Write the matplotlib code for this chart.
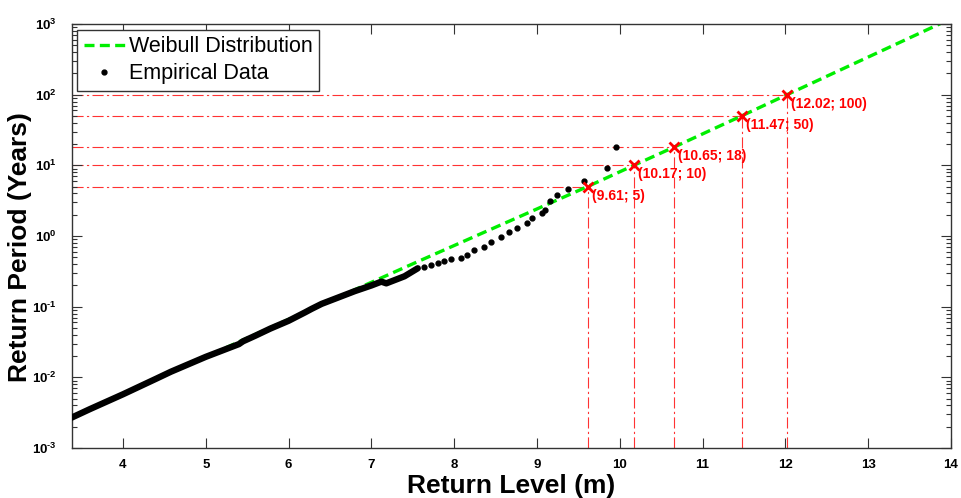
import numpy as np
import matplotlib
matplotlib.use("Agg")
import matplotlib.pyplot as plt
from matplotlib.lines import Line2D
from matplotlib.ticker import FixedLocator, FuncFormatter, NullFormatter

plt.rcParams['font.family'] = ['Liberation Sans', 'DejaVu Sans']
plt.rcParams['mathtext.fontset'] = 'custom'
plt.rcParams['mathtext.rm'] = 'Liberation Sans'
plt.rcParams['mathtext.bf'] = 'Liberation Sans:bold'

# Empirical return periods: dense part (many overlapping events)
dense_level = [3.38, 3.6, 3.8, 4.0, 4.2, 4.4, 4.58, 4.8, 5.0, 5.2, 5.4, 5.45,
               5.6, 5.78, 6.0, 6.2, 6.28, 6.4, 6.6, 6.8, 7.0, 7.12, 7.18,
               7.4, 7.56]
dense_log_period = [-2.57, -2.45, -2.345, -2.24, -2.13, -2.02, -1.92, -1.81,
                    -1.71, -1.62, -1.53, -1.49, -1.41, -1.31, -1.20, -1.08,
                    -1.03, -0.96, -0.87, -0.78, -0.70, -0.646, -0.67, -0.57,
                    -0.457]

# Empirical return periods: sparse upper tail
tail_level = [7.64, 7.72, 7.80, 7.88, 7.96, 8.08, 8.16, 8.24, 8.36, 8.44,
              8.56, 8.66, 8.76, 8.88, 8.94, 9.06, 9.10, 9.16, 9.24, 9.37,
              9.57, 9.84, 9.95]
tail_log_period = [-0.443, -0.41, -0.387, -0.36, -0.33, -0.316, -0.27, -0.20,
                   -0.15, -0.08, -0.01, 0.06, 0.11, 0.18, 0.25, 0.32, 0.37,
                   0.49, 0.58, 0.66, 0.78, 0.96, 1.264]

# Fitted Weibull return-level curve
weibull_level = [3.38, 5.0, 6.28, 7.56, 9.61, 10.17, 10.65, 11.47, 12.02, 14.0]
weibull_period = [2.7e-3, 0.0195, 0.093, 0.434, 5, 10, 18, 50, 100, 1190]

# Selected return periods with their return levels
sel_level = [9.61, 10.17, 10.65, 11.47, 12.02]
sel_period = [5, 10, 18, 50, 100]
sel_labels = ['(9.61; 5)', '(10.17; 10)', '(10.65; 18)', '(11.47; 50)',
              '(12.02; 100)']

x_ticks = [4, 5, 6, 7, 8, 9, 10, 11, 12, 13, 14]
y_decades = [-3, -2, -1, 0, 1, 2, 3]

GREEN = '#00ee00'
REF_RED = '#ff3333'

fig = plt.figure(figsize=(9.61, 4.98), dpi=100)
ax = fig.add_axes([0.0749, 0.1004, 0.9147, 0.8514])

xmin, xmax = 3.384, 14.0
ymin, ymax = 1e-3, 1e3

# Reference lines for the selected return periods
ref_kw = dict(color=REF_RED, lw=0.8, dashes=(10, 3, 2, 3), zorder=1)
for lv, tp in zip(sel_level, sel_period):
    ax.plot([xmin, lv], [tp, tp], **ref_kw)
    ax.plot([lv, lv], [ymin, tp], **ref_kw)

# Weibull curve (drawn beneath the empirical points)
ax.plot(weibull_level, weibull_period, color=GREEN, lw=2.4,
        dashes=(3.0, 1.6), zorder=2)

# Empirical data
dense_T = 10 ** np.array(dense_log_period)
tail_T = 10 ** np.array(tail_log_period)
ax.plot(dense_level, dense_T, color='black', lw=4.6, solid_capstyle='round',
        zorder=3)
ax.plot(tail_level, tail_T, 'k.', ms=7, zorder=3)

# Selected points and labels
ax.plot(sel_level, sel_period, 'x', color='red', ms=6.5, mew=2, zorder=5)
for lv, tp, lab in zip(sel_level, sel_period, sel_labels):
    ax.annotate(lab, (lv, tp), xytext=(3, -6.5), textcoords='offset points',
                ha='left', va='center', color='red', fontsize=10,
                fontweight='bold', zorder=6)

ax.set_yscale('log')
ax.set_xlim(xmin, xmax)
ax.set_ylim(ymin, ymax)


def decade_label(v, pos):
    e = int(round(np.log10(v)))
    # plain hyphen for negative exponents
    exp = ('\u2010%d' % -e) if e < 0 else '%d' % e
    return r'$\mathbf{10^{%s}}$' % exp


major_y = [10.0 ** e for e in y_decades]
minor_y = [m * 10.0 ** e for e in y_decades[:-1] for m in range(2, 10)]

ax.xaxis.set_major_locator(FixedLocator(x_ticks))
ax.xaxis.set_major_formatter(FuncFormatter(lambda v, p: f'{int(v)}'))
ax.yaxis.set_major_locator(FixedLocator(major_y))
ax.yaxis.set_minor_locator(FixedLocator(minor_y))
ax.yaxis.set_minor_formatter(NullFormatter())
ax.yaxis.set_major_formatter(FuncFormatter(decade_label))

ax.tick_params(which='both', direction='in', top=True, right=True,
               color='#333333', labelsize=9.5)
ax.tick_params(which='major', length=7, width=0.8)
ax.tick_params(which='minor', length=3.5, width=0.8)
ax.tick_params(axis='x', pad=8)
ax.tick_params(axis='y', pad=11)
for lbl in ax.get_xticklabels():
    lbl.set_fontweight('bold')
for s in ax.spines.values():
    s.set_color('#333333')
    s.set_linewidth(1.0)

ax.set_xlabel('Return Level (m)', fontsize=19, fontweight='bold', labelpad=2)
ax.set_ylabel('Return Period (Years)', fontsize=19, fontweight='bold')
ax.yaxis.label.set_va('center')
ax.yaxis.set_label_coords(-0.059, 0.474)

handles = [Line2D([], [], color=GREEN, lw=2.4, dashes=(3.0, 1.6)),
           Line2D([], [], color='black', marker='.', ms=7, ls='none')]
leg = ax.legend(handles, ['Weibull Distribution', 'Empirical Data'],
                loc='upper left', bbox_to_anchor=(0.006, 0.986), fontsize=15.5,
                frameon=True, fancybox=False, framealpha=1, borderpad=0.3,
                handlelength=1.9, handletextpad=0.2, labelspacing=0.28,
                borderaxespad=0)
leg.get_frame().set_edgecolor('#333333')
leg.get_frame().set_linewidth(1.0)

fig.savefig('out.png', dpi=100)
